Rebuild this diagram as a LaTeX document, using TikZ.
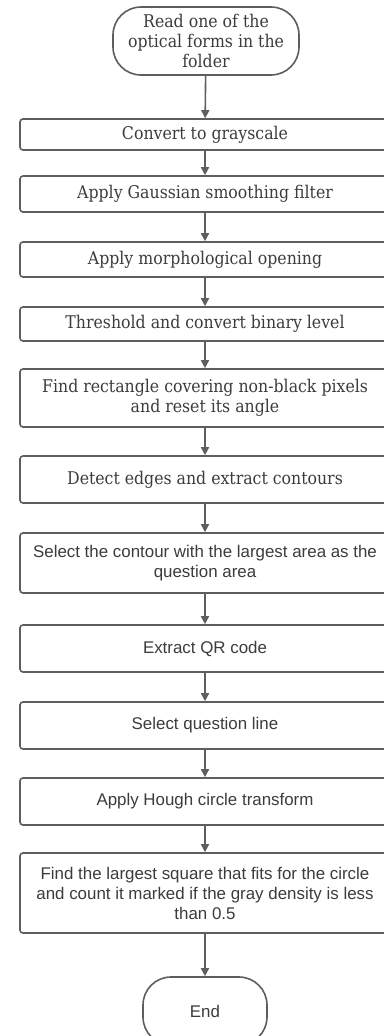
\documentclass[tikz,border=0pt]{standalone}
\usepackage{fontspec}
\setmainfont{DejaVu Serif Condensed}
\setsansfont{Liberation Sans}
\usepackage{tikz}
\usetikzlibrary{arrows.meta, positioning}
\definecolor{edgegray}{HTML}{5E5E5E}
\definecolor{textgray}{HTML}{3C3C3C}
\tikzset{
    box_term/.style={
        rectangle, rounded corners=28pt, draw=edgegray, line width=1.6pt,
        fill=white, text=textgray, align=center, inner sep=0pt,
        font=\rmfamily\fontsize{17.5}{20}\selectfont
    },
    box_serif/.style={
        rectangle, rounded corners=3pt, draw=edgegray, line width=1.6pt,
        fill=white, text=textgray, minimum width=370pt, align=center, inner sep=0pt,
        font=\rmfamily\fontsize{17.5}{20}\selectfont
    },
    box_sans/.style={
        box_serif, font=\sffamily\fontsize{16.9}{20}\selectfont
    },
    flow_arrow/.style={
        -{Triangle[length=8pt, width=8pt]}, draw=edgegray, line width=1.6pt
    }
}

\begin{document}
\begin{tikzpicture}[x=1pt, y=-1pt]

    \useasboundingbox (0,0) rectangle (383,1036);

    \node[box_term, minimum width=186pt, minimum height=68pt] (s0) at (206, 41)
        {Read one of the\\optical forms in the\\folder};
    \node[box_serif, minimum height=31pt] (s1) at (205, 134.5) {Convert to grayscale};
    \node[box_serif, minimum height=36pt] (s2) at (205, 194) {Apply Gaussian smoothing filter};
    \node[box_serif, minimum height=35pt] (s3) at (205, 259.5) {Apply morphological opening};
    \node[box_serif, minimum height=34pt] (s4) at (205, 324) {Threshold and convert binary level};
    \node[box_serif, minimum height=58pt] (s5) at (205, 398)
        {Find rectangle covering non-black pixels\\and reset its angle};
    \node[box_serif, minimum height=47pt] (s6) at (205, 479.5) {Detect edges and extract contours};
    \node[box_sans, minimum height=60pt] (s7) at (205, 563)
        {Select the contour with the largest area as the\\question area};
    \node[box_sans, minimum height=47pt] (s8) at (205, 648.5) {Extract QR code};
    \node[box_sans, minimum height=47pt] (s9) at (205, 725.5) {Select question line};
    \node[box_sans, minimum height=47pt] (s10) at (205, 801.5) {Apply Hough circle transform};
    \node[box_sans, minimum height=80pt] (s11) at (205, 893)
        {Find the largest square that fits for the circle\\and count it marked if the gray density is less\\than 0.5};
    \node[box_term, font=\sffamily\fontsize{16.9}{20}\selectfont,
        minimum width=124pt, minimum height=68pt] (s12) at (205, 1011) {End};

    \draw[flow_arrow] (s0) -- (s1);
    \draw[flow_arrow] (s1) -- (s2);
    \draw[flow_arrow] (s2) -- (s3);
    \draw[flow_arrow] (s3) -- (s4);
    \draw[flow_arrow] (s4) -- (s5);
    \draw[flow_arrow] (s5) -- (s6);
    \draw[flow_arrow] (s6) -- (s7);
    \draw[flow_arrow] (s7) -- (s8);
    \draw[flow_arrow] (s8) -- (s9);
    \draw[flow_arrow] (s9) -- (s10);
    \draw[flow_arrow] (s10) -- (s11);
    \draw[flow_arrow] (s11) -- (s12);

\end{tikzpicture}
\end{document}
